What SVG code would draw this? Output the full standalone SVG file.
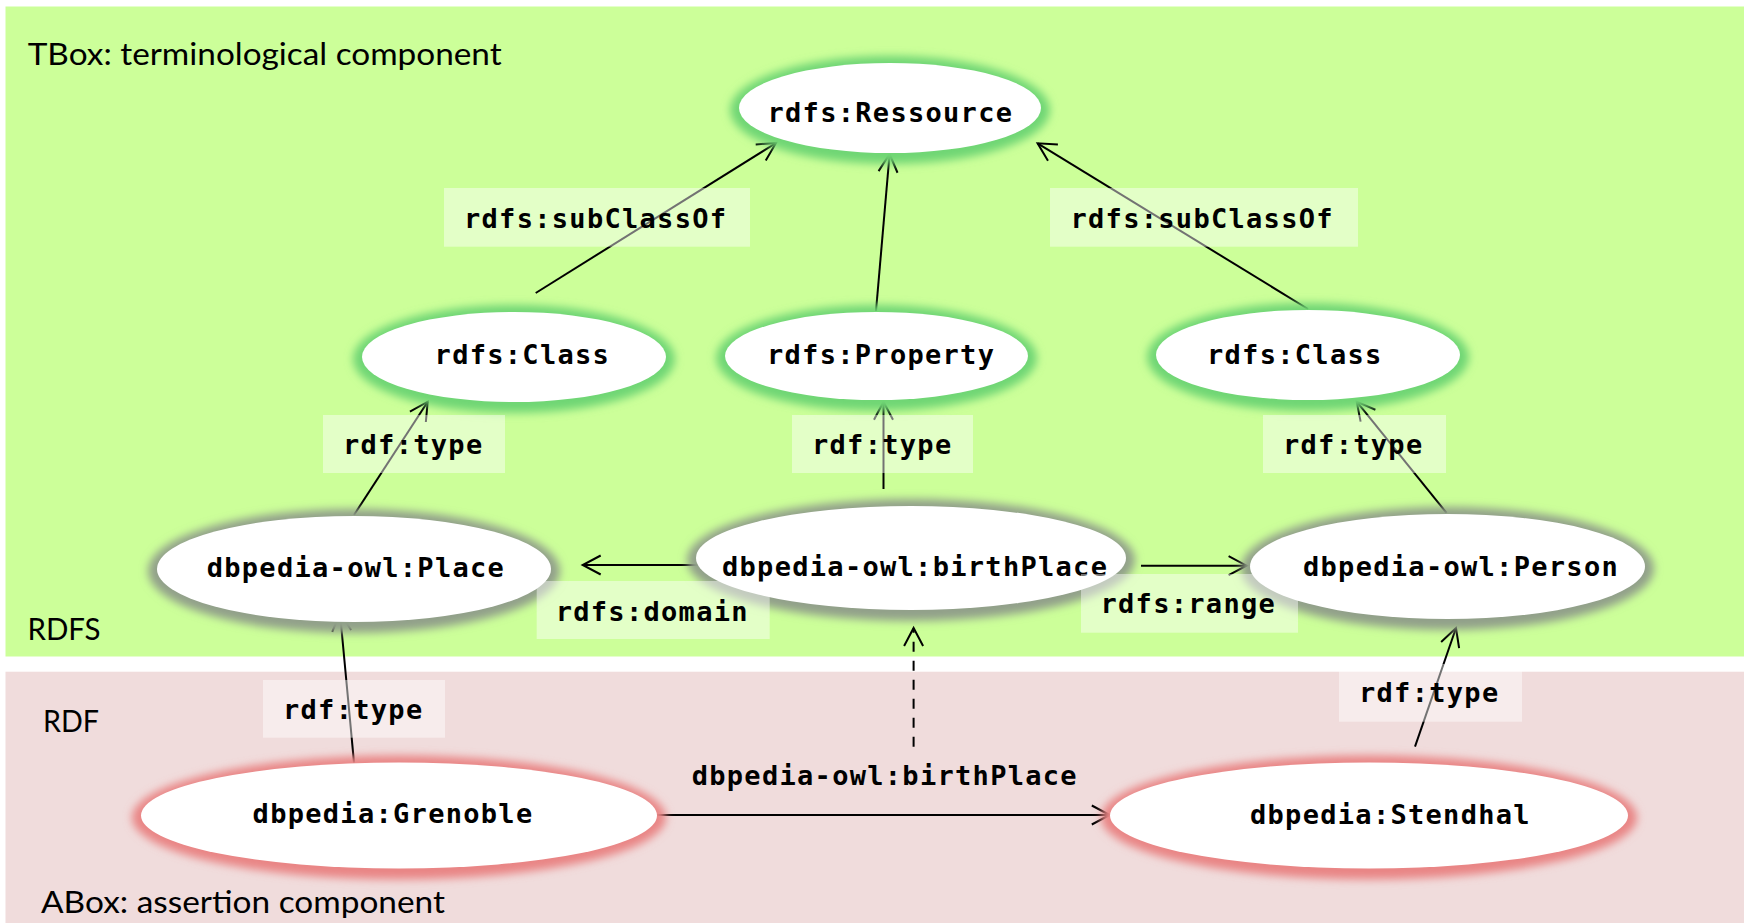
<svg xmlns="http://www.w3.org/2000/svg" width="1750" height="923" viewBox="0 0 1750 923">
<defs>
<style>
.zone{font-family:Lato,"Open Sans","Liberation Sans",sans-serif;font-size:31px;fill:#000}
.mono{font-family:"DejaVu Sans Mono","Liberation Mono",monospace;font-weight:bold;font-size:27px;letter-spacing:1.3px;fill:#000}
.edge{stroke:#000;stroke-width:2;fill:none;marker-end:url(#arr)}
.dash{stroke-dasharray:10 9}
.node{fill:#fff}
.gG{fill:#6fd675;filter:url(#blur)}
.gS{fill:#92a08a;filter:url(#blur)}
.gR{fill:#e98585;filter:url(#blur)}
.lbl{fill:#fff;fill-opacity:0.45}
</style>
<filter id="blur" x="-20%" y="-50%" width="140%" height="200%"><feGaussianBlur stdDeviation="4.5"/></filter>
<marker id="arr" markerUnits="userSpaceOnUse" viewBox="-21 -12 24 24" markerWidth="24" markerHeight="24" refX="0" refY="0" orient="auto" overflow="visible"><path d="M-18,-9.5 L0,0 L-18,9.5" fill="none" stroke="#000" stroke-width="2"/></marker>
</defs>
<rect width="1750" height="923" fill="#fff"/>
<rect id="tbox-zone" x="5.5" y="6.5" width="1738.5" height="650" fill="#ccff99"/>
<rect id="abox-zone" x="5.5" y="671.7" width="1738.5" height="252" fill="#f0dcdc"/>
<text class="zone" x="27.7" y="65" textLength="474" lengthAdjust="spacingAndGlyphs">TBox: terminological component</text>
<text class="zone" x="27.5" y="640" textLength="73" lengthAdjust="spacingAndGlyphs">RDFS</text>
<text class="zone" x="43" y="731.7" textLength="56" lengthAdjust="spacingAndGlyphs">RDF</text>
<text class="zone" x="41" y="912.7" textLength="404" lengthAdjust="spacingAndGlyphs">ABox: assertion component</text>

<g id="connectors">
<line class="edge" x1="535.7" y1="293" x2="776" y2="143"/>
<line class="edge" x1="876" y1="311" x2="889.6" y2="154"/>
<line class="edge" x1="1308" y1="309" x2="1037.6" y2="143.3"/>
<line class="edge" x1="354" y1="515" x2="427.7" y2="401.7"/>
<line class="edge" x1="883.5" y1="489" x2="883.5" y2="401.7"/>
<line class="edge" x1="1446.6" y1="513" x2="1356.7" y2="401.7"/>
<line class="edge" x1="701.5" y1="565" x2="582.7" y2="565"/>
<line class="edge" x1="1141" y1="565.7" x2="1246.6" y2="565.7"/>
<line class="edge" x1="354" y1="762.7" x2="340" y2="613"/>
<line class="edge" x1="1415" y1="746.7" x2="1456" y2="628"/>
<line class="edge" x1="657" y1="815" x2="1109.8" y2="815"/>
<line class="edge dash" x1="913.6" y1="746.7" x2="913.6" y2="628"/>
</g>

<g id="node-ressource">
<ellipse class="gG" cx="890" cy="110" rx="160" ry="54"/>
<ellipse class="node" cx="890" cy="108" rx="151" ry="45"/>
<text class="mono" x="767.5" y="121.7">rdfs:Ressource</text>
</g>
<g id="node-class-left">
<ellipse class="gG" cx="514" cy="359" rx="161" ry="54"/>
<ellipse class="node" cx="514" cy="357" rx="152" ry="45"/>
<text class="mono" x="434.6" y="363.5">rdfs:Class</text>
</g>
<g id="node-property">
<ellipse class="gG" cx="876.5" cy="358" rx="160.5" ry="53"/>
<ellipse class="node" cx="876.5" cy="356" rx="151.5" ry="44"/>
<text class="mono" x="767" y="363.5">rdfs:Property</text>
</g>
<g id="node-class-right">
<ellipse class="gG" cx="1308" cy="357" rx="161" ry="54"/>
<ellipse class="node" cx="1308" cy="355" rx="152" ry="45"/>
<text class="mono" x="1207" y="363.5">rdfs:Class</text>
</g>
<g id="node-place">
<ellipse class="gS" cx="354" cy="571" rx="206" ry="62"/>
<ellipse class="node" cx="354" cy="569" rx="197" ry="53"/>
<text class="mono" x="206.7" y="576.5">dbpedia-owl:Place</text>
</g>
<g id="node-birthplace">
<ellipse class="gS" cx="911" cy="560" rx="224" ry="61"/>
<ellipse class="node" cx="911" cy="558" rx="215" ry="52"/>
<text class="mono" x="722" y="576">dbpedia-owl:birthPlace</text>
</g>
<g id="node-person">
<ellipse class="gS" cx="1447.5" cy="568.5" rx="206.5" ry="61.5"/>
<ellipse class="node" cx="1447.5" cy="566.5" rx="197.5" ry="52.5"/>
<text class="mono" x="1303" y="576">dbpedia-owl:Person</text>
</g>
<g id="node-grenoble">
<ellipse class="gR" cx="399" cy="817.5" rx="267" ry="62"/>
<ellipse class="node" cx="399" cy="815.5" rx="258" ry="53"/>
<text class="mono" x="252.6" y="823">dbpedia:Grenoble</text>
</g>
<g id="node-stendhal">
<ellipse class="gR" cx="1369" cy="817.5" rx="268" ry="62"/>
<ellipse class="node" cx="1369" cy="815.5" rx="259" ry="53"/>
<text class="mono" x="1250" y="824">dbpedia:Stendhal</text>
</g>

<g id="connector-labels">
<rect class="lbl" x="444" y="188" width="306" height="58.7"/>
<text class="mono" x="464" y="228">rdfs:subClassOf</text>
<rect class="lbl" x="1050" y="188" width="308" height="58.7"/>
<text class="mono" x="1070.5" y="228">rdfs:subClassOf</text>
<rect class="lbl" x="323" y="415" width="182" height="58"/>
<text class="mono" x="343" y="454">rdf:type</text>
<rect class="lbl" x="792" y="415" width="181" height="58"/>
<text class="mono" x="812" y="454">rdf:type</text>
<rect class="lbl" x="1263" y="415" width="183" height="58"/>
<text class="mono" x="1283" y="454">rdf:type</text>
<rect class="lbl" x="536.7" y="581" width="233" height="58"/>
<text class="mono" x="555.7" y="620.7">rdfs:domain</text>
<rect class="lbl" x="1081" y="574" width="217" height="58.7"/>
<text class="mono" x="1100.5" y="613">rdfs:range</text>
<rect class="lbl" x="263" y="680" width="182" height="57.7"/>
<text class="mono" x="283" y="719">rdf:type</text>
<rect class="lbl" x="1339" y="664" width="183" height="57.7"/>
<text class="mono" x="1359" y="701.7">rdf:type</text>
<text class="mono" x="691.7" y="785">dbpedia-owl:birthPlace</text>
</g>
</svg>
